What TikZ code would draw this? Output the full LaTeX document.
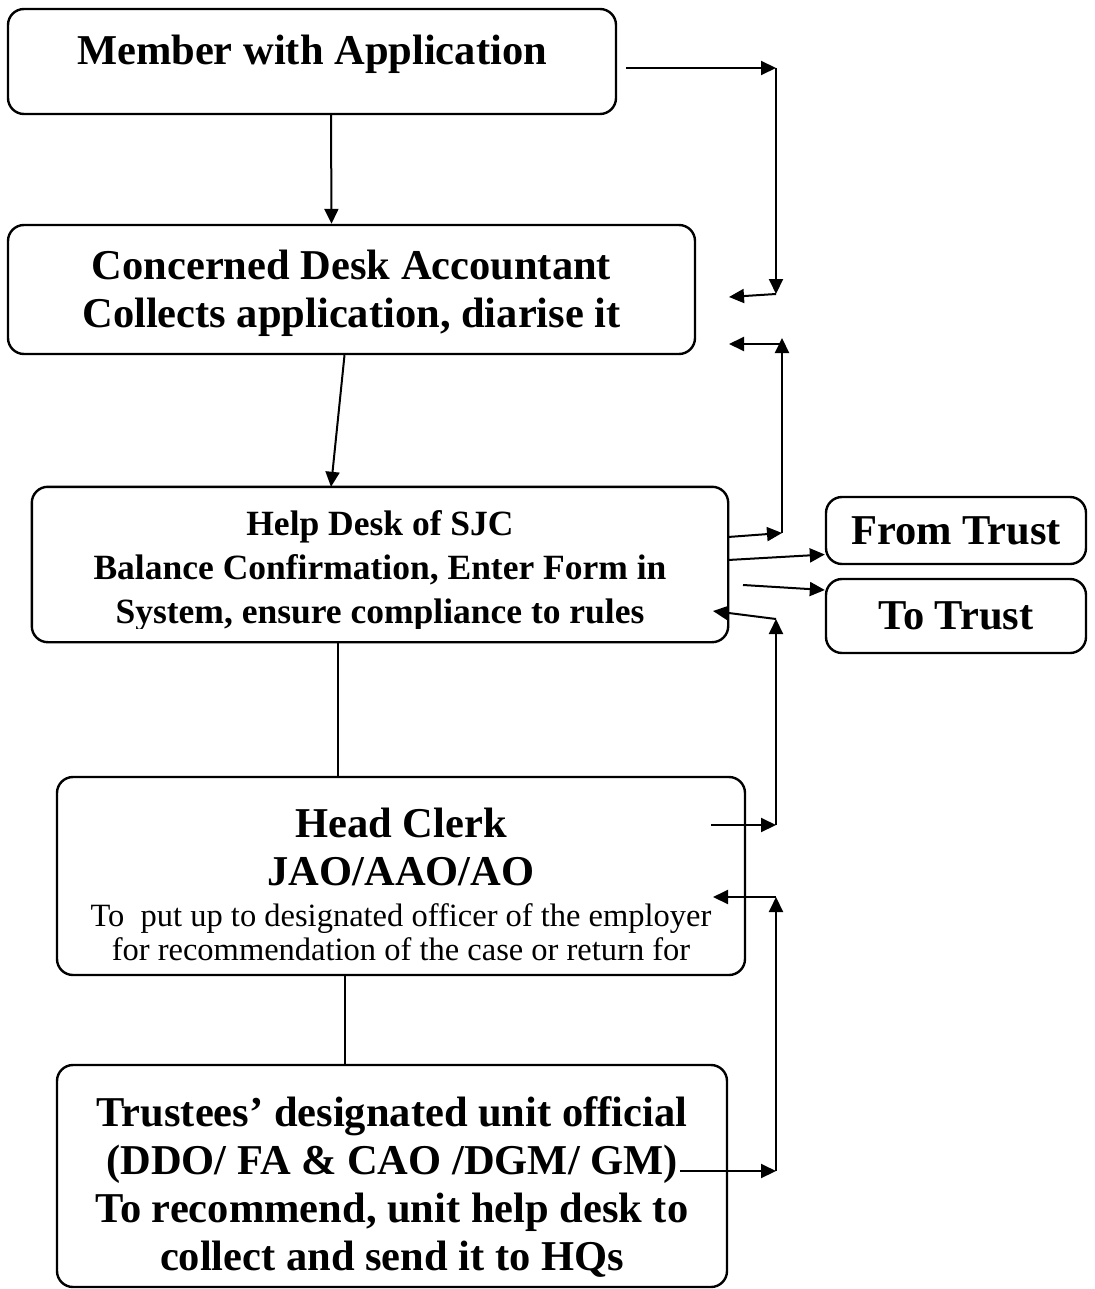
\documentclass[tikz,border=0pt]{standalone}
\usepackage{fontspec}
\setmainfont{Liberation Serif}
\usetikzlibrary{arrows.meta}

\newcommand{\bigtxt}{\fontsize{42.5}{48}\selectfont\bfseries}
\newcommand{\midtxt}{\fontsize{35.5}{44}\selectfont\bfseries}
\newcommand{\smalltxt}{\fontsize{32.5}{34}\selectfont}

\begin{document}
\begin{tikzpicture}[x=1pt, y=-1pt,
    box/.style={draw, line width=2.4pt, rounded corners=16pt, inner sep=0pt, align=center},
    arr/.style={line width=2pt, -{Triangle[length=15pt,width=14pt]}},
    link/.style={line width=2pt}]

    \useasboundingbox (0,0) rectangle (1094,1289);

    % boxes
    \node[box, font=\bigtxt, minimum width=608pt, minimum height=105pt] (member) at (312,61.5)
        {Member with Application\rule[-24pt]{0pt}{24pt}};
    \node[box, font=\bigtxt, minimum width=687pt, minimum height=129pt] (desk) at (351.5,289.5)
        {\rule{0pt}{38pt}Concerned Desk Accountant\\Collects application, diarise it};
    % last line of the help desk is cut at the foot of its box
    \begin{scope}
        \clip (0,0) rectangle (1094,628);
        \node[box, draw=none, font=\midtxt, minimum width=694pt, minimum height=153pt] (help) at (380,564.5)
            {\rule{0pt}{38pt}Help Desk of SJC\\Balance Confirmation, Enter Form in\\System, ensure compliance to rules};
    \end{scope}
    \draw[line width=2.4pt, rounded corners=16pt] (help.south west) rectangle (help.north east);
    \node[box, font=\bigtxt, minimum width=260pt, minimum height=67pt] (fromtrust) at (956,530.5) {From Trust};
    \node[box, font=\bigtxt, minimum width=260pt, minimum height=74pt] (totrust) at (956,616) {To Trust};
    \node[box, font=\smalltxt, minimum width=688pt, minimum height=198pt] (clerk) at (401,876)
        {\rule{0pt}{46pt}{\bigtxt Head Clerk}\\[14pt]{\bigtxt JAO/AAO/AO}\\[7pt]
         To\ \ put up to designated officer of the employer\\for recommendation of the case or return for};
    \node[box, font=\bigtxt, minimum width=670pt, minimum height=222pt] (trustee) at (392,1176)
        {\rule{0pt}{51pt}Trustees’ designated unit official\\(DDO/ FA \& CAO /DGM/ GM)\\To recommend, unit help desk to\\collect and send it to HQs};

    % main flow
    \draw[arr] ([xshift=19pt]member.south) -- ([xshift=-20pt]desk.north);
    \draw[arr] ([xshift=-7pt]desk.south) -- ([xshift=-49pt]help.north);
    \draw[link] ([xshift=-42pt]help.south) -- ([xshift=-63pt]clerk.north);
    \draw[link] ([xshift=-56pt]clerk.south) -- ([xshift=-47pt]trustee.north);

    % loops on the right
    \coordinate (m1) at (626,68);
    \coordinate (r1) at (776,68);
    \coordinate (r2) at (776,294);
    \coordinate (d1) at (729,297);
    \draw[arr] (m1) -- (r1);
    \draw[arr] (r1) -- (r2);
    \draw[arr] (r2) -- (d1);

    \coordinate (h1) at (728,537);
    \coordinate (r3) at (782,533);
    \coordinate (r4) at (782,338);
    \coordinate (r5) at (781,344);
    \coordinate (d2) at (729,344);
    \draw[arr] (h1) -- (r3);
    \draw[arr] (r3) -- (r4);
    \draw[arr] (r5) -- (d2);

    \coordinate (h2) at (728,560);
    \coordinate (h3) at (743,585);
    \draw[arr] (h2) -- ([yshift=-24pt]fromtrust.west);
    \draw[arr] (h3) -- ([yshift=26pt]totrust.west);

    \coordinate (c1) at (711,825);
    \coordinate (r7) at (776,825);
    \coordinate (r6) at (776,619);
    \coordinate (h4) at (713,611);
    \draw[arr] (c1) -- (r7);
    \draw[arr] (r7) -- (r6);
    \draw[arr] (r6) -- (h4);

    \coordinate (t1) at (680,1171);
    \coordinate (r9) at (776,1171);
    \coordinate (r8) at (776,897);
    \coordinate (c2) at (713,897);
    \draw[arr] (t1) -- (r9);
    \draw[arr] (r9) -- (r8);
    \draw[arr] (r8) -- (c2);

\end{tikzpicture}
\end{document}
